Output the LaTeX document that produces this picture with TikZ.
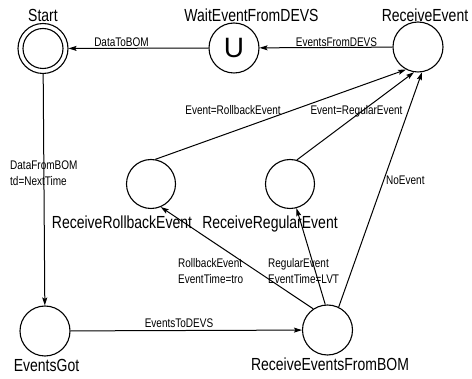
\documentclass[tikz,border=0pt]{standalone}
\usepackage{fontspec}
\setmainfont{Liberation Sans}[FakeStretch=0.8]
\newfontfamily\ufont{Liberation Sans}
\usetikzlibrary{arrows.meta}
\tikzset{
  state/.style={circle,draw,line width=1.1pt,minimum size=50pt,inner sep=0pt},
  big/.style={font=\fontsize{17.5}{20}\selectfont,inner sep=0pt,anchor=base},
  small/.style={font=\fontsize{12.5}{14}\selectfont,inner sep=0pt,anchor=base},
  multi/.style={font=\fontsize{12.5}{16}\selectfont,inner sep=0pt,anchor=north west,align=left},
  conn/.style={draw,line width=1pt,-{Stealth[length=8pt,width=5pt,inset=1.5pt]}}
}
\begin{document}
\begin{tikzpicture}[x=1pt,y=-1pt]
\useasboundingbox (0,0) rectangle (472,379);
% states
\node[state] (start) at (43,48.5) {};
\node[state,minimum size=40pt] (startin) at (43,48.5) {};
\node[state] (wait) at (234,48) {};
\node[font=\ufont\fontsize{28}{30}\selectfont,inner sep=0pt] (u) at (234,48) {U};
\node[state] (re) at (418,47) {};
\node[state,minimum size=49pt] (rb) at (151,184) {};
\node[state,minimum size=49pt] (rg) at (290,184) {};
\node[state] (eg) at (45,331) {};
\node[state] (bom) at (327.5,330) {};
% state names
\node[big] (lstart) at (43,22) {Start};
\node[big] (lwait) at (251.5,22) {WaitEventFromDEVS};
\node[big] (lre) at (425,22) {ReceiveEvent};
\node[big] (lrb) at (122,229) {ReceiveRollbackEvent};
\node[big] (lrg) at (270,229) {ReceiveRegularEvent};
\node[big] (leg) at (46.5,372) {EventsGot};
\node[big] (lbom) at (330,371) {ReceiveEventsFromBOM};
% connectors
\path[conn] (wait) -- (start);
\path[conn] (re) -- (wait);
\path[conn] (start) -- (eg);
\path[conn] (eg) -- (bom);
\path[conn] (bom.124) -- (rb.293);
\path[conn] (bom.95) -- (rg.285);
\path[conn] (bom.64) -- (re.279);
\path[conn] (rb.80) -- (re.242);
\path[conn] (rg.74) -- (re.261);
% connector labels
\node[small] (tdatatobom) at (121.5,46.5) {DataToBOM};
\node[small] (tefd) at (336.5,46.5) {EventsFromDEVS};
\node[small] (terb) at (233,115) {Event=RollbackEvent};
\node[small] (terg) at (356.5,115) {Event=RegularEvent};
\node[small,anchor=base west] (tno) at (386,185) {NoEvent};
\node[small] (tetd) at (179,328) {EventsToDEVS};
\node[multi] (tdfb) at (10,160.5) {DataFromBOM\\td=NextTime};
\node[multi] (trbe) at (178,258) {RollbackEvent\\EventTime=tro};
\node[multi] (trge) at (268,258) {RegularEvent\\EventTime=LVT};
\end{tikzpicture}
\end{document}
